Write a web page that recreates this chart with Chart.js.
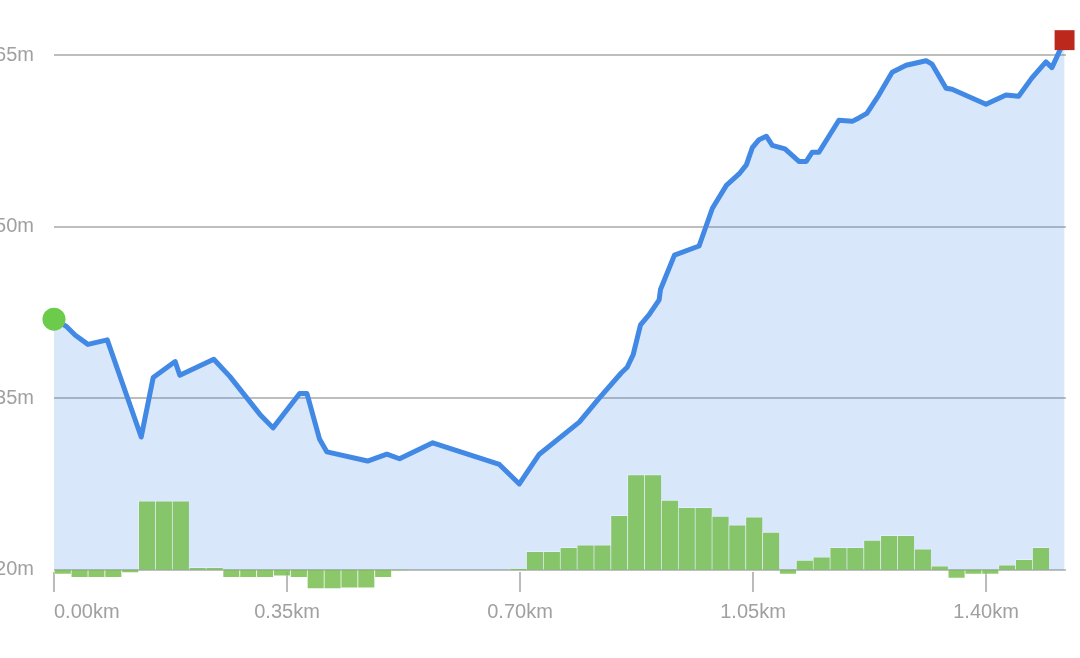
<!DOCTYPE html>
<html>
<head>
<meta charset="utf-8">
<script src="https://cdn.jsdelivr.net/npm/chart.js@4/dist/chart.umd.min.js"></script>
<style>
	html, body { margin: 0; padding: 0; background: #fff; }
	#frame { position: relative; width: 1080px; height: 658px; overflow: hidden; }
	#wrap { position: absolute; left: -10px; top: 0; width: 1090px; height: 658px; }
</style>
</head>
<body>
<div id="frame"><div id="wrap"><canvas id="elevation"></canvas></div></div>
<script>
// Elevation profile (distance in km, elevation in m)
const distKm = [0, 0.018, 0.032, 0.051, 0.080, 0.131, 0.149, 0.182, 0.189, 0.240,
	0.264, 0.309, 0.329, 0.369, 0.380, 0.399, 0.410, 0.471, 0.500, 0.519,
	0.569, 0.669, 0.699, 0.729, 0.789, 0.819, 0.852, 0.861, 0.870, 0.881,
	0.894, 0.909, 0.911, 0.932, 0.969, 0.989, 1.010, 1.029, 1.040, 1.049,
	1.059, 1.070, 1.079, 1.098, 1.119, 1.130, 1.139, 1.149, 1.179, 1.199,
	1.209, 1.221, 1.239, 1.259, 1.280, 1.310, 1.319, 1.340, 1.349, 1.400,
	1.430, 1.449, 1.469, 1.490, 1.499, 1.518];
const elevM = [41.9, 41.3, 40.5, 39.7, 40.1, 31.6, 36.8, 38.2, 37.0, 38.4,
	36.9, 33.6, 32.4, 35.4, 35.4, 31.4, 30.3, 29.5, 30.1, 29.7,
	31.1, 29.2, 27.5, 30.1, 32.9, 35.0, 37.2, 37.7, 38.8, 41.4,
	42.3, 43.6, 44.5, 47.5, 48.3, 51.6, 53.6, 54.6, 55.4, 56.9,
	57.6, 57.9, 57.1, 56.8, 55.7, 55.7, 56.5, 56.5, 59.3, 59.2,
	59.5, 59.9, 61.5, 63.5, 64.1, 64.5, 64.2, 62.1, 62.0, 60.7,
	61.5, 61.4, 63.0, 64.4, 63.9, 66.3];

// Grade (%) per 25 m segment
const gradePct = [-0.6, -1.0, -1.0, -1.0, -0.4, 8.6, 8.6, 8.6, 0.3, 0.3,
	-1.0, -1.0, -1.0, -0.8, -1.0, -2.4, -2.4, -2.3, -2.3, -1.0,
	-0.1, 0, 0, 0, 0, 0, 0, 0.1, 2.3, 2.3,
	2.8, 3.1, 3.1, 6.8, 11.9, 11.9, 8.7, 7.8, 7.8, 6.7,
	5.6, 6.6, 4.7, -0.6, 1.2, 1.6, 2.8, 2.8, 3.7, 4.3,
	4.3, 2.6, 0.5, -1.1, -0.6, -0.6, 0.6, 1.3, 2.8, 0];

const xTicks = [0, 0.35, 0.70, 1.05, 1.40];
const yTicks = [20, 35, 50, 65];

const TOTAL_KM = 1.52;
const SEGMENT_KM = TOTAL_KM / gradePct.length;
const Y_MIN = 19.8, Y_MAX = 66.4, BASE_M = 20;
const GRADE_PER_M = 1.43; // grade axis units per metre of elevation axis

const lastIdx = distKm.length - 1;
const tickFont = { family: "'Liberation Sans', Arial, sans-serif", size: 20 };

new Chart(document.getElementById("elevation"), {
	type: "line",
	data: {
		datasets: [
			{
				type: "line",
				order: 0,
				data: distKm.map((d, i) => ({ x: d, y: elevM[i] })),
				borderColor: "rgb(65,137,229)",
				borderWidth: 5,
				borderJoinStyle: "round",
				tension: 0,
				fill: { value: BASE_M },
				backgroundColor: "rgba(65,137,229,0.2)",
				clip: false,
				pointRadius: (c) => (c.dataIndex === 0 ? 11.5 : c.dataIndex === lastIdx ? 14.1 : 0),
				pointStyle: (c) => (c.dataIndex === lastIdx ? "rect" : "circle"),
				pointBackgroundColor: (c) => (c.dataIndex === lastIdx ? "#bd281d" : "#6ccb4a"),
				pointBorderWidth: 0,
				pointHoverRadius: 0,
			},
			{
				type: "bar",
				order: 1,
				yAxisID: "y2",
				data: gradePct.map((g, i) => ({ x: (i + 0.5) * SEGMENT_KM, y: g })),
				backgroundColor: "rgba(120,190,80,0.85)",
				borderColor: "rgba(255,255,255,0.3)",
				borderWidth: { left: 1, right: 0, top: 1, bottom: 1 },
				borderSkipped: "start",
				barPercentage: 1,
				categoryPercentage: 1,
				clip: false,
			},
		],
	},
	options: {
		responsive: true,
		maintainAspectRatio: false,
		animation: false,
		layout: { padding: { top: 39, right: 12, left: 0, bottom: 0 } },
		plugins: {
			legend: { display: false },
			tooltip: { enabled: false },
			filler: { drawTime: "beforeDatasetsDraw" },
		},
		scales: {
			x: {
				type: "linear",
				min: 0,
				max: TOTAL_KM,
				offset: false,
				// extra blank tick at the end so "inner" only left-aligns the first label
				afterBuildTicks: (s) => { s.ticks = xTicks.concat([TOTAL_KM]).map((v) => ({ value: v })); },
				afterFit: (s) => { s.height = 86; },
				border: { display: false },
				grid: {
					offset: false,
					drawOnChartArea: false,
					drawTicks: true,
					tickLength: 20,
					color: (c) => (c.tick && c.tick.value > 1.5 ? "rgba(0,0,0,0)" : "#bbbbbb"),
					lineWidth: 2,
				},
				ticks: {
					color: "#a0a0a0",
					font: tickFont,
					padding: 8,
					maxRotation: 0,
					autoSkip: false,
					align: "inner",
					callback: (v) => (v > 1.5 ? "" : v.toFixed(2) + "km"),
				},
			},
			y: {
				min: Y_MIN,
				max: Y_MAX,
				afterBuildTicks: (s) => { s.ticks = yTicks.map((v) => ({ value: v })); },
				afterFit: (s) => { s.width = 64; },
				border: { display: false },
				grid: { drawTicks: false, color: "#bebebe", lineWidth: 2 },
				ticks: {
					color: "#a0a0a0",
					font: tickFont,
					padding: 20,
					callback: (v) => v + "m",
				},
			},
			y2: {
				display: false,
				min: (Y_MIN - BASE_M) * GRADE_PER_M,
				max: (Y_MAX - BASE_M) * GRADE_PER_M,
			},
		},
	},
});
</script>
</body>
</html>
